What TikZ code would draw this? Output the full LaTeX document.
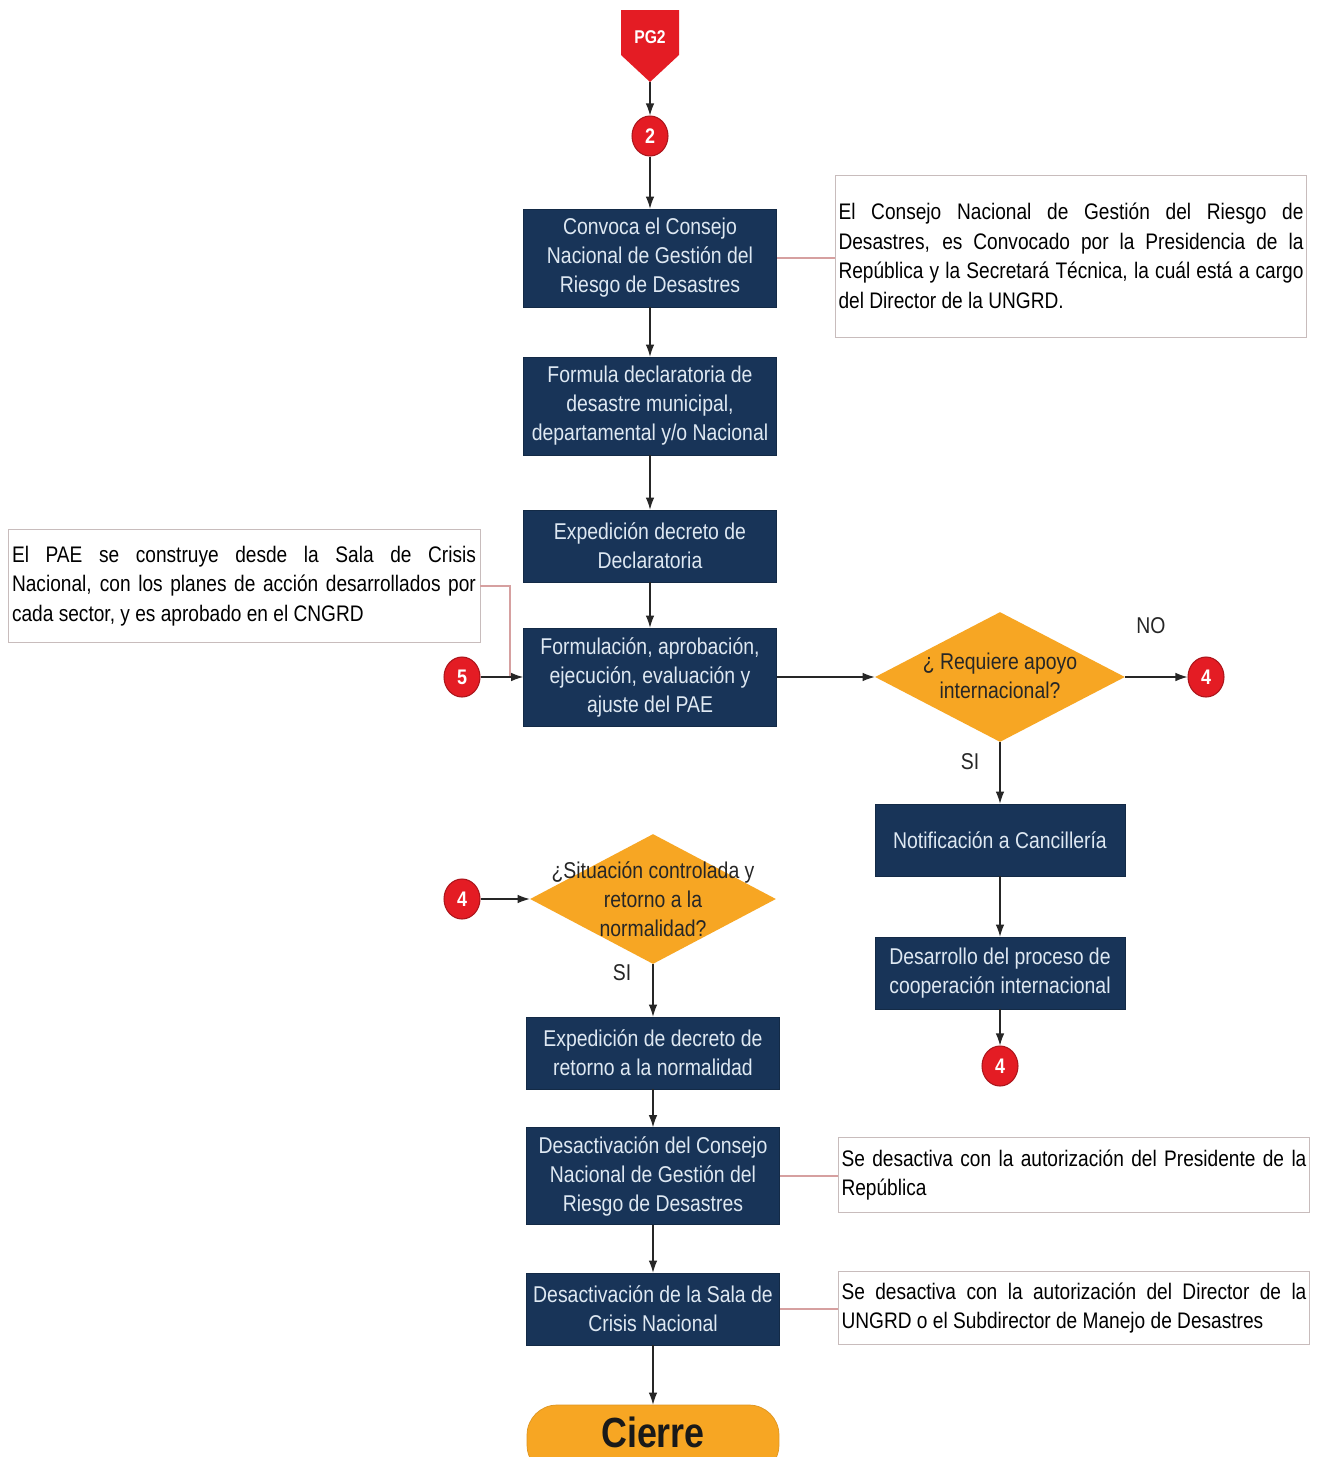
\documentclass[tikz,border=0pt]{standalone}
\usepackage{fontspec}
\setmainfont{Liberation Sans}[FakeStretch=0.85]
\usetikzlibrary{shapes.geometric,arrows.meta}
\definecolor{navy}{RGB}{24,52,88}
\definecolor{boxtext}{RGB}{222,232,242}
\definecolor{orng}{RGB}{247,166,35}
\definecolor{redc}{RGB}{228,28,36}
\definecolor{notec}{RGB}{200,188,188}
\definecolor{linkc}{RGB}{214,160,160}
\begin{document}
\begin{tikzpicture}[x=0.02cm,y=-0.02cm,
 proc/.style={draw=navy!80!black, fill=navy, text=boxtext, minimum width=5.06cm, minimum height=1.44cm, align=center, inner sep=0pt, font=\fontsize{13}{16.5}\selectfont},
 tall/.style={minimum height=1.96cm},
 conn/.style={ellipse, fill=redc, draw=redc!75!black, line width=0.6pt, minimum width=0.72cm, minimum height=0.8cm, inner sep=0pt, text=white, font=\fontsize{12}{12}\selectfont\bfseries},
 dia/.style={diamond, fill=orng, minimum width=5cm, minimum height=2.6cm, inner sep=0pt},
 dtext/.style={align=center, text=black!85, font=\fontsize{13}{16.5}\selectfont},
 note/.style={draw=notec, line width=0.5pt, fill=white, align=justify, text width=9.3cm, inner xsep=0.06cm, inner ysep=0pt, font=\fontsize{12.8}{16.8}\selectfont},
 flow/.style={-{Latex[length=2.4mm,width=1.7mm]}, line width=0.6pt, black!85},
 link/.style={draw=linkc, line width=0.6pt},
 lbl/.style={font=\fontsize{13}{13}\selectfont, text=black!85},
]
\useasboundingbox[fill=white] (0,0) rectangle (1325,1457);

% start connector
\fill[redc] (621,10) -- (679,10) -- (679,55) -- (650,82) -- (621,55) -- cycle;
\node[text=white, font=\fontsize{10.5}{10.5}\selectfont\bfseries] (pg) at (650,37) {PG2};
\coordinate (pgtip) at (650,82);

\node[conn] (c2) at (650,136) {2};

% main column
\node[proc, tall] (b1) at (650,258) {Convoca el Consejo\\Nacional de Gestión del\\Riesgo de Desastres};
\node[proc, tall] (b2) at (650,406) {Formula declaratoria de\\desastre municipal,\\departamental y/o Nacional};
\node[proc] (b3) at (650,546) {Expedición decreto de\\Declaratoria};
\node[proc, tall] (b4) at (650,677) {Formulación, aprobación,\\ejecución, evaluación y\\ajuste del PAE};

\node[conn] (c5) at (462,677) {5};
\coordinate (j5) at (510,677);

% decision 1
\node[dia] (d1) at (1000,677) {};
\node[dtext] (d1t) at (1000,676) {¿ Requiere apoyo\\internacional?};
\node[conn] (c4a) at (1206,677) {4};
\node[lbl] (no) at (1151,626) {NO};
\node[lbl] (si1) at (970,762) {SI};
\node[proc, minimum width=5cm] (b5) at (1000,840) {Notificación a Cancillería};
\node[proc, minimum width=5cm] (b6) at (1000,973) {Desarrollo del proceso de\\cooperación internacional};
\node[conn] (c4b) at (1000,1066) {4};

% decision 2
\node[conn] (c4c) at (462,899) {4};
\node[dia, minimum width=4.92cm] (d2) at (653,899) {};
\node[dtext] (d2t) at (653,899) {¿Situación controlada y\\retorno a la\\normalidad?};
\node[lbl] (si2) at (622,973) {SI};
\node[proc] (b7) at (653,1053) {Expedición de decreto de\\retorno a la normalidad};
\node[proc, minimum height=1.94cm] (b8) at (653,1176) {Desactivación del Consejo\\Nacional de Gestión del\\Riesgo de Desastres};
\node[proc] (b9) at (653,1309) {Desactivación de la Sala de\\Crisis Nacional};
\node[fill=orng, draw=orng!90!black, rounded corners=0.6cm, minimum width=5.04cm, minimum height=1.4cm] (ci) at (653,1440) {};
\node[font=\fontsize{24}{24}\selectfont\bfseries, text=black!90] (cit) at (653,1432) {Cierre};

% notes
\node[note, minimum height=3.24cm] (n1) at (1071,256) {El Consejo Nacional de Gestión del Riesgo de\linebreak Desastres, es Convocado por la Presidencia de la\linebreak República y la Secretará Técnica, la cuál está a cargo\linebreak del Director de la UNGRD.};
\node[note, text width=9.28cm, inner xsep=0.08cm, minimum height=2.26cm] (n2) at (244,586) {El PAE se construye desde la Sala de Crisis\linebreak Nacional, con los planes de acción desarrollados por\linebreak cada sector, y es aprobado en el CNGRD};
\node[note, minimum height=1.5cm] (n3) at (1074,1175) {Se desactiva con la autorización del Presidente de la\linebreak República};
\node[note, minimum height=1.46cm] (n4) at (1074,1308) {Se desactiva con la autorización del Director de la\linebreak UNGRD o el Subdirector de Manejo de Desastres};

% note links
\draw[link] (b1.east) -- (b1.east -| n1.west);
\draw[link] (n2.east) -| (j5);
\draw[link] (b8.east) -- (b8.east -| n3.west);
\draw[link] (b9.east) -- (b9.east -| n4.west);

% flow
\draw[flow] (pgtip) -- (c2.north);
\draw[flow] (c2.south) -- (b1.north);
\draw[flow] (b1.south) -- (b2.north);
\draw[flow] (b2.south) -- (b3.north);
\draw[flow] (b3.south) -- (b4.north);
\draw[flow] (c5.east) -- (b4.west);
\draw[flow] (b4.east) -- (d1.west);
\draw[flow] (d1.east) -- (c4a.west);
\draw[flow] (d1.south) -- (b5.north);
\draw[flow] (b5.south) -- (b6.north);
\draw[flow] (b6.south) -- (c4b.north);
\draw[flow] (c4c.east) -- (d2.west);
\draw[flow] (d2.south) -- (b7.north);
\draw[flow] (b7.south) -- (b8.north);
\draw[flow] (b8.south) -- (b9.north);
\draw[flow] (b9.south) -- (ci.north);
\end{tikzpicture}
\end{document}
